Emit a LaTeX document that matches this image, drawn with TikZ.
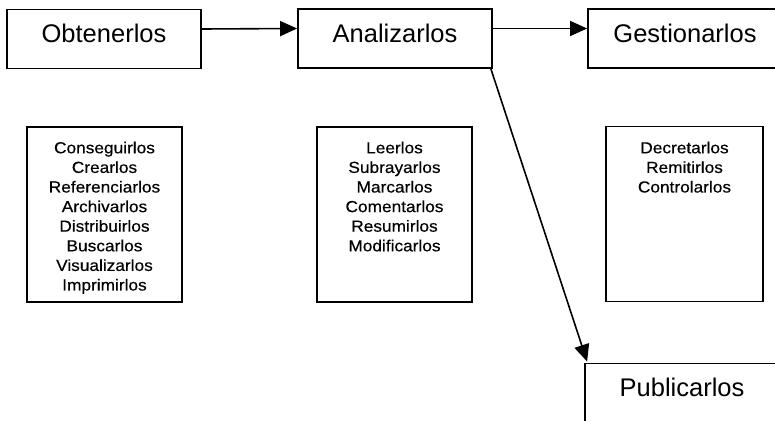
\documentclass[tikz,border=0pt]{standalone}
\usepackage{fontspec}
\setmainfont{Liberation Sans}
\newfontfamily\listfont[FakeStretch=1.08,FakeBold=0.3]{Liberation Sans}
\usetikzlibrary{arrows.meta,calc}
\begin{document}
\begin{tikzpicture}[x=1pt,y=-1pt,
  stage/.style={draw, line width=1.8pt, inner sep=0pt, minimum width=194pt, minimum height=59pt},
  stagelabel/.style={font=\fontsize{25.5}{30}\selectfont, anchor=base, inner sep=0pt},
  listbox/.style={draw, line width=1.8pt, inner sep=0pt, minimum height=175pt},
  listtext/.style={font=\listfont\fontsize{16}{19.6}\selectfont, align=center, anchor=north, inner sep=0pt},
  flow/.style={-{Triangle[length=17pt,width=15pt]}, line width=1.6pt}]
  \clip (0,0) rectangle (775,420);
  \fill[white] (0,0) rectangle (775,420);

  % main stages
  \node[stage] (obt) at (104,39) {};
  \node[stage] (ana) at (395,38.5) {};
  \node[stage] (ges) at (685,38.5) {};
  \node[stage] (pub) at (682,393) {};
  \node[stagelabel] (obtT) at (104,43) {Obtenerlos};
  \node[stagelabel] (anaT) at (395,43) {Analizarlos};
  \node[stagelabel] (gesT) at (685,43) {Gestionarlos};
  \node[stagelabel] (pubT) at (682,396) {Publicarlos};

  % activity lists
  \node[listbox, minimum width=155pt] (obtL) at (104.5,214.5) {};
  \node[listbox, minimum width=155pt] (anaL) at (394.5,214.5) {};
  \node[listbox, minimum width=157pt] (gesL) at (684.5,214) {};
  \node[listtext] (obtLT) at (104.5,141.5) {Conseguirlos\\Crearlos\\Referenciarlos\\Archivarlos\\Distribuirlos\\Buscarlos\\Visualizarlos\\Imprimirlos};
  \node[listtext] (anaLT) at (394.5,141.5) {Leerlos\\Subrayarlos\\Marcarlos\\Comentarlos\\Resumirlos\\Modificarlos};
  \node[listtext] (gesLT) at (684.5,141.5) {Decretarlos\\Remitirlos\\Controlarlos};

  % flow between stages
  \draw[flow] ($(obt.east)+(0,-10)$) -- ($(ana.west)+(0,-10)$);
  \draw[flow] ($(ana.east)+(0,-10)$) -- ($(ges.west)+(0,-10)$);
  \draw[flow] ($(ana.south east)+(-2,0)$) -- ($(pub.north west)+(3,-1)$);
\end{tikzpicture}
\end{document}
